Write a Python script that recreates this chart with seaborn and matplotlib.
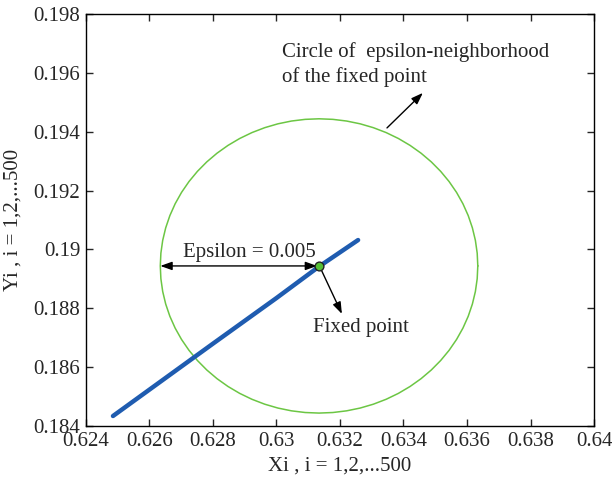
import numpy as np
import pandas as pd
import matplotlib
matplotlib.use("Agg")
import matplotlib.pyplot as plt
import seaborn as sns

# Data
traj_x = [0.62485, 0.6280, 0.6300, 0.63134, 0.63257]
traj_y = [0.18434, 0.18680, 0.18835, 0.18942, 0.19032]
fixed_x = [0.63134]
fixed_y = [0.18944]
epsilon = 0.005
circle_deg = list(range(0, 361, 5))
xticks = [0.624, 0.626, 0.628, 0.63, 0.632, 0.634, 0.636, 0.638, 0.64]
xtick_labels = ["0.624", "0.626", "0.628", "0.63", "0.632", "0.634", "0.636", "0.638", "0.64"]
yticks = [0.184, 0.186, 0.188, 0.19, 0.192, 0.194, 0.196, 0.198]
ytick_labels = ["0.184", "0.186", "0.188", "0.19", "0.192", "0.194", "0.196", "0.198"]

sns.set_style("white")
plt.rcParams['font.family'] = ['Liberation Serif', 'DejaVu Serif']

fig = plt.figure(figsize=(6.12, 4.79), dpi=100)
ax = fig.add_axes([0.1405, 0.1106, 0.8301, 0.8601])

th = np.deg2rad(np.array(circle_deg, dtype=float))
circ = pd.DataFrame({"x": fixed_x[0] + epsilon * np.cos(th),
                     "y": fixed_y[0] + epsilon * np.sin(th)})
sns.lineplot(data=circ, x="x", y="y", sort=False, estimator=None,
             color="#6cc644", linewidth=1.1, ax=ax)

traj = pd.DataFrame({"x": traj_x, "y": traj_y})
sns.lineplot(data=traj, x="x", y="y", sort=False, estimator=None,
             color="#1f5cb0", linewidth=3.2, ax=ax)

sns.scatterplot(x=fixed_x, y=fixed_y, s=40, color="#55c035",
                edgecolor="#222222", linewidth=1.0, zorder=5, ax=ax)

fs = 15
arrow_kw = dict(color="black", lw=1.0, shrinkA=0, shrinkB=0)
# Epsilon arrow
ax.annotate("", xy=(fixed_x[0] - epsilon, fixed_y[0]), xytext=(fixed_x[0] - 0.00006, fixed_y[0]),
            arrowprops=dict(arrowstyle="<|-|>,head_length=0.7,head_width=0.25", **arrow_kw))
ax.text(0.62915, 0.18991, "Epsilon = 0.005", fontsize=fs, ha="center", va="center")

# Fixed point arrow
ax.annotate("", xy=(0.63206, 0.18781), xytext=(0.63140, 0.18933),
            arrowprops=dict(arrowstyle="-|>,head_length=0.7,head_width=0.25", **arrow_kw))
ax.text(0.63115, 0.18736, "Fixed point", fontsize=fs, ha="left", va="center")

# Circle arrow
ax.annotate("", xy=(0.63461, 0.19532), xytext=(0.63348, 0.19413),
            arrowprops=dict(arrowstyle="-|>,head_length=0.7,head_width=0.25", **arrow_kw))
ax.text(0.63017, 0.19671, "Circle of  epsilon-neighborhood", fontsize=fs, ha="left", va="center")
ax.text(0.63017, 0.19586, "of the fixed point", fontsize=fs, ha="left", va="center")

ax.set_xlim(0.624, 0.64)
ax.set_ylim(0.184, 0.198)
ax.set_xticks(xticks)
ax.set_xticklabels(xtick_labels)
ax.set_yticks(yticks)
ax.set_yticklabels(ytick_labels)
ax.tick_params(direction="in", length=5, width=1, labelsize=fs, pad=4,
               top=True, right=True, bottom=True, left=True,
               labeltop=False, labelright=False)
for s in ax.spines.values():
    s.set_color("black")
    s.set_linewidth(1.0)
ax.set_xlabel("Xi , i = 1,2,...500", fontsize=fs, labelpad=4)
ax.set_ylabel("Yi , i = 1,2,...500", fontsize=fs, labelpad=8)

fig.savefig("out.png", dpi=100)
